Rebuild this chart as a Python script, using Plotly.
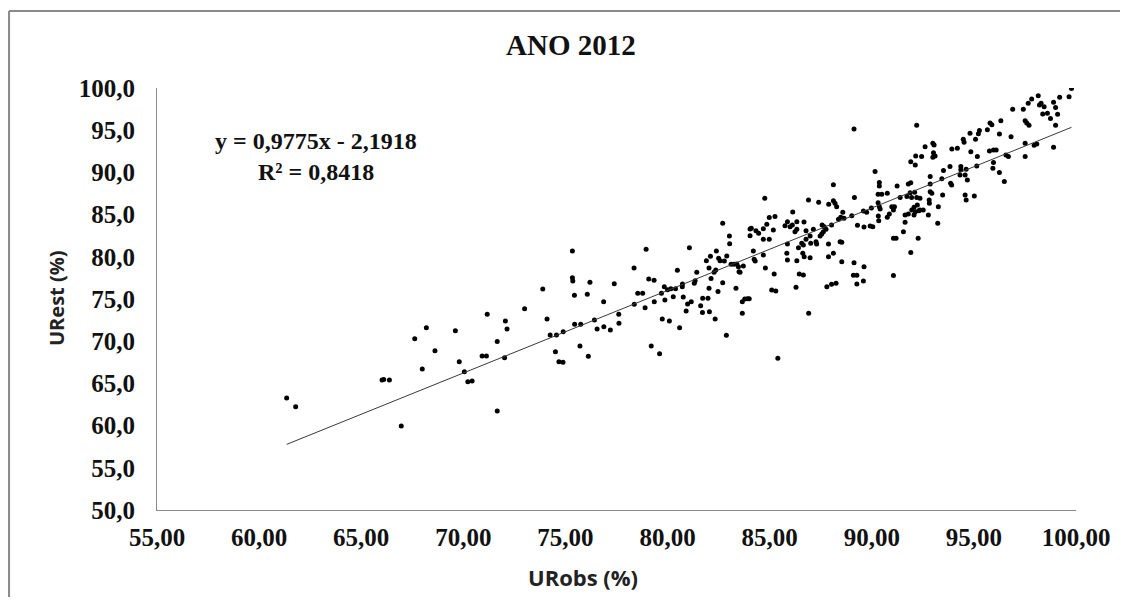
import plotly.graph_objects as go

# Observed relative humidity (%) - x
urobs = [
    61.35, 61.79, 66.02, 66.10, 66.38, 66.96, 67.62, 68.19, 67.99, 68.61, 69.61, 69.80,
    70.05, 70.22, 70.43, 70.92, 71.13, 71.17, 71.66, 71.66, 72.02, 72.06, 72.14, 73.00, 74.10, 74.25, 74.56, 74.51, 74.68, 74.88,
    75.45, 75.75, 75.71, 76.12, 76.42, 76.55, 76.88, 77.20, 77.61, 77.62, 76.87, 78.37, 78.90, 79.20, 79.61, 79.35, 79.74, 80.09, 79.87, 80.59, 80.91, 80.98, 81.16, 81.62, 81.71, 82.05, 82.33, 82.88, 83.66, 83.66, 85.40, 86.91,
    73.89, 74.89, 75.34, 75.34, 75.36, 75.44, 76.07, 76.20, 77.39, 78.36, 78.54,
    78.95, 78.78, 79.08, 79.34, 79.70, 79.84, 80.00, 80.16, 80.39, 80.72, 80.28, 80.48, 80.73, 80.77, 81.07, 81.31, 81.35, 81.43, 81.72, 81.98, 81.90, 82.10, 82.03, 82.03, 82.13, 82.28, 82.36, 82.39, 82.47, 82.50, 82.57, 82.70, 82.78, 82.90, 82.70, 83.03, 83.04, 83.11, 83.26, 83.39, 83.47, 83.35, 83.50, 83.55, 83.78, 83.91, 84.00, 83.71, 84.04, 84.04, 84.20, 84.24, 84.29, 84.10, 84.33, 84.46, 84.69, 84.69, 84.98, 84.76, 84.69, 84.79, 84.86, 84.98, 85.26, 85.18, 85.22, 85.10, 85.30, 85.75, 85.87, 86.00, 86.11, 86.33, 86.33, 86.24, 86.13, 85.87, 85.84, 85.87, 86.33, 86.41, 86.29, 86.45,
    89.13, 92.20, 92.15, 91.91, 92.13, 90.16, 88.12, 90.37, 90.37, 90.49, 90.31, 90.76, 91.24, 91.79, 91.91, 91.88, 89.15, 86.90, 87.40, 87.89, 88.12, 88.20, 88.28, 88.58, 88.48, 88.37, 88.64, 89.02, 89.59, 89.75, 89.98, 90.31, 90.37, 90.41, 90.32, 90.34, 90.98, 91.11, 91.06, 90.86, 90.76, 91.39, 91.72, 91.63, 91.79, 92.07, 92.13, 92.30, 92.07, 92.23, 91.63, 91.55, 91.06, 91.19, 92.27, 91.91, 91.06, 89.62, 89.92, 90.05, 89.30, 86.68, 86.78, 87.14, 86.98, 86.78, 86.57, 86.65, 87.01, 87.27, 87.30, 87.57, 87.67, 87.76, 87.55, 87.47, 87.63, 88.03, 87.88, 88.45, 88.53, 86.62, 86.69, 86.98, 87.88, 88.12, 88.53, 89.13, 89.62, 86.65, 87.80, 88.03, 88.25, 89.10, 89.27, 89.27, 89.59,
    98.15, 97.83, 97.66, 97.42, 98.21, 98.29, 98.44, 98.37, 97.51, 97.59, 97.70, 96.90, 96.32, 95.79, 95.88, 95.66, 95.27, 95.22, 94.81, 94.48, 94.52, 95.08, 96.25, 96.82, 97.51, 97.95, 98.08, 97.51, 92.99, 93.05, 92.61, 93.92, 94.19, 93.02, 92.99, 93.10, 94.85, 95.17, 95.76, 95.96, 96.09, 96.57, 96.69, 92.44, 93.51, 93.83, 94.36, 94.36, 94.62, 95.14, 95.96, 95.93, 96.25, 96.49, 92.86, 93.43, 94.32, 94.57, 94.68, 93.86, 93.91, 92.86, 92.10, 91.95, 92.20, 92.36, 92.86, 92.94, 92.81, 93.47, 94.57, 94.62, 95.02, 91.96, 92.36, 92.52, 92.77, 92.82, 93.26, 93.23,
    99.78, 99.66, 99.00, 98.90, 98.60, 98.90, 99.00, 99.20, 98.75, 99.10,
]

# Estimated relative humidity (%) - y
urest = [
    63.27, 62.24, 65.40, 65.45, 65.40, 59.95, 70.30, 71.60, 66.71, 68.87, 71.25, 67.57,
    66.39, 65.21, 65.28, 68.25, 68.25, 73.19, 69.95, 61.73, 68.05, 72.40, 71.45, 73.85, 72.63, 70.74, 70.74, 68.76, 67.57, 67.50,
    72.00, 72.00, 69.43, 68.21, 72.51, 71.45, 71.72, 71.33, 73.19, 72.12, 74.68, 74.37, 73.97, 69.43, 68.52, 74.68, 72.63, 72.40, 74.88, 71.60, 73.58, 74.40, 74.68, 74.20, 73.40, 73.50, 72.63, 70.70, 73.30, 74.68, 67.97, 73.30,
    76.18, 71.13, 80.69, 77.52, 77.13, 75.43, 75.55, 76.98, 76.82, 78.67, 75.67,
    80.89, 75.67, 77.37, 77.21, 75.67, 76.46, 76.10, 76.22, 76.22, 76.46, 75.28, 78.40, 76.78, 75.24, 81.07, 76.86, 77.17, 78.16, 75.08, 75.08, 79.54, 80.06, 78.67, 76.26, 77.44, 78.16, 78.44, 80.69, 75.90, 79.82, 79.52, 76.94, 79.50, 80.10, 83.97, 82.46, 81.54, 79.11, 79.11, 79.15, 78.83, 76.26, 78.24, 78.16, 75.00, 75.04, 75.04, 78.91, 83.29, 82.50, 80.69, 79.70, 79.50, 83.37, 83.10, 82.78, 83.33, 82.07, 82.07, 86.93, 80.22, 78.67, 83.85, 84.65, 84.77, 83.18, 77.96, 76.07, 75.95, 83.69, 84.16, 83.57, 83.77, 84.16, 83.26, 82.98, 85.30, 81.52, 80.42, 79.62, 79.54, 81.07, 76.38, 77.96,
    95.14, 95.58, 91.94, 91.27, 90.88, 90.12, 88.55, 88.79, 88.39, 87.40, 87.40, 87.52, 88.39, 88.63, 88.78, 87.60, 87.04, 86.73, 86.46, 86.22, 86.65, 86.34, 85.94, 85.27, 84.68, 84.44, 84.56, 84.87, 85.43, 85.27, 85.77, 86.41, 85.94, 85.66, 84.83, 84.28, 85.94, 85.94, 85.55, 85.07, 84.68, 87.04, 87.13, 84.95, 85.07, 84.95, 85.35, 85.47, 85.86, 86.14, 84.09, 82.98, 82.19, 82.19, 82.19, 80.51, 77.77, 83.53, 83.65, 83.57, 83.73, 84.12, 83.10, 83.26, 82.47, 82.07, 81.60, 81.40, 81.60, 81.79, 81.52, 83.77, 83.57, 83.26, 82.70, 82.47, 82.98, 83.77, 81.52, 81.79, 81.72, 80.42, 80.02, 79.90, 80.02, 80.42, 79.42, 79.30, 78.83, 77.84, 76.46, 76.74, 76.86, 77.81, 77.81, 76.78, 77.13,
    99.09, 98.70, 98.19, 97.48, 97.99, 98.19, 97.79, 96.93, 96.12, 95.84, 95.60, 97.48, 96.12, 95.84, 95.64, 95.05, 94.97, 94.57, 94.63, 93.92, 93.57, 93.92, 94.55, 94.23, 93.45, 93.21, 93.37, 91.87, 93.45, 93.25, 93.05, 92.77, 92.85, 92.34, 91.79, 91.94, 92.45, 91.87, 92.53, 92.65, 92.65, 92.06, 91.87, 91.87, 90.22, 90.69, 90.69, 90.30, 90.38, 90.77, 91.17, 90.49, 89.98, 88.91, 89.50, 89.26, 89.69, 89.69, 89.10, 88.71, 88.51, 88.63, 87.64, 87.04, 87.04, 86.93, 87.72, 87.52, 86.73, 87.33, 87.33, 86.73, 87.20, 85.55, 85.55, 85.55, 84.95, 86.34, 85.94, 83.97,
    99.95, 98.97, 95.60, 92.97, 97.00, 98.30, 97.70, 98.90, 96.40, 96.90,
]

# Linear trend coefficients as printed on the chart
slope = 0.9775
intercept = -2.1918
x_ticks = [55, 60, 65, 70, 75, 80, 85, 90, 95, 100]
y_ticks = [50, 55, 60, 65, 70, 75, 80, 85, 90, 95, 100]

x_line = [min(urobs), max(urobs)]
y_line = [slope * v + intercept for v in x_line]

fig = go.Figure()
fig.add_trace(go.Scatter(
    x=urobs, y=urest, mode="markers",
    marker=dict(color="black", size=5, symbol="circle"),
    showlegend=False, hoverinfo="skip",
))
fig.add_trace(go.Scatter(
    x=x_line, y=y_line, mode="lines",
    line=dict(color="#3a3a3a", width=1),
    showlegend=False, hoverinfo="skip",
))

tick_font = dict(family="Liberation Serif", size=25, color="#111111")
serif = "Liberation Serif"
border = dict(color="#8a8a8a", width=2)

fig.update_layout(
    width=1120, height=589, autosize=False,
    margin=dict(l=149, r=52, t=80, b=87),
    paper_bgcolor="white", plot_bgcolor="white",
    xaxis=dict(
        range=[55, 100], tickmode="array", tickvals=x_ticks,
        ticktext=["<b>" + f"{v:.2f}".replace(".", ",") + "</b>" for v in x_ticks],
        showgrid=False, zeroline=False,
        showline=True, linecolor="#8a8a8a", linewidth=1,
        ticks="", tickfont=tick_font, ticklabelstandoff=5,
    ),
    yaxis=dict(
        range=[50, 100], tickmode="array", tickvals=y_ticks,
        ticktext=["<b>" + f"{v:.1f}".replace(".", ",") + "</b>" for v in y_ticks],
        showgrid=False, zeroline=False,
        showline=True, linecolor="#8a8a8a", linewidth=1,
        ticks="", tickfont=tick_font, ticklabelstandoff=16,
    ),
    shapes=[
        dict(type="line", xref="paper", yref="paper",
             x0=-0.1610, x1=1.12, y0=1.1825, y1=1.1825, line=border, layer="below"),
        dict(type="line", xref="paper", yref="paper",
             x0=-0.1610, x1=-0.1610, y0=-0.40, y1=1.1825, line=border, layer="below"),
    ],
    annotations=[
        dict(text="<b>ANO 2012</b>", xref="paper", yref="paper", x=0.4505, y=1.1019,
             showarrow=False, xanchor="center", yanchor="middle",
             font=dict(family=serif, size=29, color="#111111")),
        dict(text="<b>y = 0,9775x - 2,1918</b>", xref="paper", yref="paper", x=0.173, y=0.8744,
             showarrow=False, xanchor="center", yanchor="middle",
             font=dict(family=serif, size=24, color="#111111")),
        dict(text="<b>R² = 0,8418</b>", xref="paper", yref="paper", x=0.173, y=0.8009,
             showarrow=False, xanchor="center", yanchor="middle",
             font=dict(family=serif, size=24, color="#111111")),
        dict(text="<b>URobs (%)</b>", xref="paper", yref="paper", x=0.4636, y=-0.1588,
             showarrow=False, xanchor="center", yanchor="middle",
             font=dict(family="Open Sans", size=22, color="#222222")),
        dict(text="<b>URest (%)</b>", xref="paper", yref="paper", x=-0.1088, y=0.5024,
             showarrow=False, xanchor="center", yanchor="middle", textangle=-90,
             font=dict(family="Open Sans", size=20, color="#222222")),
    ],
)

fig.write_html("out.html")
